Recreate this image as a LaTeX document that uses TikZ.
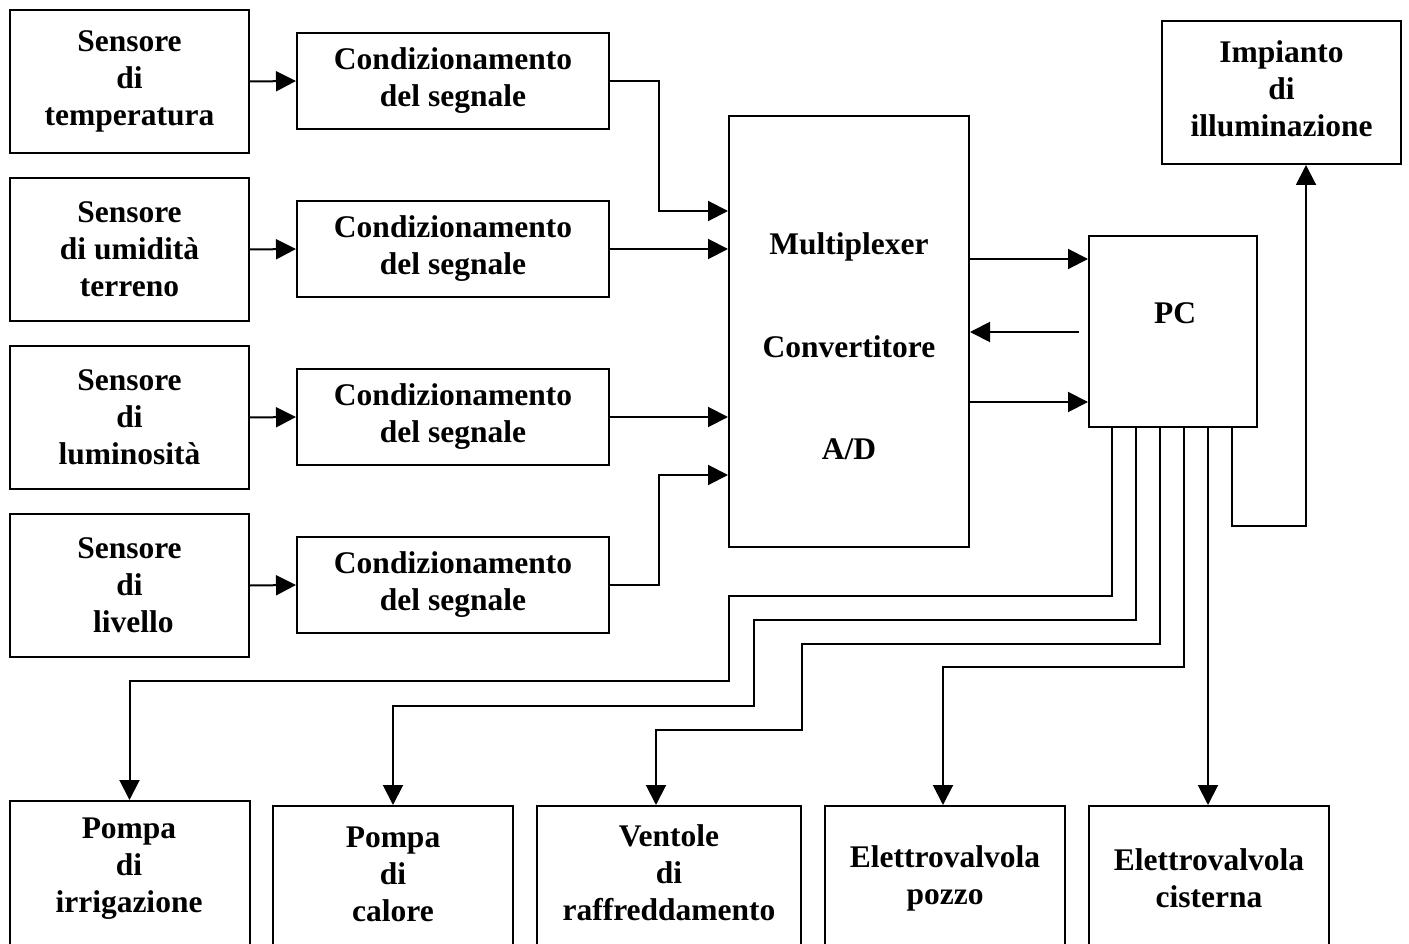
\documentclass[tikz,border=0pt]{standalone}
\usepackage{fontspec}
\setmainfont{Liberation Serif}
\usetikzlibrary{arrows.meta,calc}
\begin{document}
\begin{tikzpicture}[x=1pt,y=-1pt,
  every node/.style={font=\fontsize{31.5}{37}\selectfont\bfseries},
  box/.style={draw,line width=2pt,inner sep=0pt,align=center},
  sens/.style={box,minimum width=239pt,minimum height=143pt},
  cond/.style={box,minimum width=312pt,minimum height=96pt},
  outb/.style={box,minimum width=240pt,minimum height=160pt},
  lbl/.style={align=center,inner sep=0pt},
  wire/.style={line width=2pt},
  arr/.style={wire,-{Triangle[length=20pt,width=20pt]}}]
\useasboundingbox (0,0) rectangle (1409,944);
% sensors
\node[sens] (s1) at (129.5,81.5) {Sensore\\di\\temperatura};
\node[sens] (s2) at (129.5,249.5) {Sensore\\di umidità\\terreno};
\node[sens] (s3) at (129.5,417.5) {Sensore\\di\\luminosità};
\node[sens] (s4) at (129.5,585.5) {Sensore\\di\\\ livello};
% conditioning
\node[cond] (c1) at (453,81) {Condizionamento\\del segnale};
\node[cond] (c2) at (453,249) {Condizionamento\\del segnale};
\node[cond] (c3) at (453,417) {Condizionamento\\del segnale};
\node[cond] (c4) at (453,585) {Condizionamento\\del segnale};
% multiplexer
\node[box,minimum width=240pt,minimum height=431pt] (mux) at (849,331.5) {};
\node[lbl] (m1) at (849,247) {Multiplexer};
\node[lbl] (m2) at (849,347) {Convertitore};
\node[lbl] (m3) at (849,449) {A/D};
% PC
\node[box,minimum width=168pt,minimum height=191pt] (pc) at (1173,331.5) {};
\node[lbl] (pct) at (1175,313) {PC};
% lighting
\node[box,minimum width=239pt,minimum height=143pt] (imp) at (1281.5,92.5) {};
\node[lbl] (impt) at (1281.5,89) {Impianto\\di\\illuminazione};
% outputs
\node[outb] (b1) at (129.5,881) {};
\node[outb] (b2) at (393,886) {};
\node[outb,minimum width=264pt] (b3) at (669,886) {};
\node[outb] (b4) at (945,886) {};
\node[outb] (b5) at (1209,886) {};
\node[lbl] (t1) at (129,869) {Pompa\\di\\irrigazione};
\node[lbl] (t2) at (393,874) {Pompa\\di\\calore};
\node[lbl] (t3) at (669,873) {Ventole\\di\\raffreddamento};
\node[lbl] (t4) at (945,878.5) {Elettrovalvola\\pozzo};
\node[lbl] (t5) at (1209,878.5) {Elettrovalvola\\cisterna};
% sensor -> conditioning
\foreach \i in {1,...,4} \draw[arr] (s\i.east) -- (c\i.west);
% conditioning -> mux
\draw[arr] (c1.east) -- ++(49,0) |- ($(mux.north west)+(0,96)$);
\draw[arr] (c2.east) -- (c2.east -| mux.west);
\draw[arr] (c3.east) -- (c3.east -| mux.west);
\draw[arr] (c4.east) -- ++(49,0) |- ($(mux.north west)+(0,360)$);
% mux <-> pc
\coordinate (p1) at ($(pc.north west)+(0,24)$);
\coordinate (p2) at ($(pc.north west)+(-9,97)$);
\coordinate (p3) at ($(pc.north west)+(0,167)$);
\draw[arr] (mux.east |- p1) -- (p1);
\draw[arr] (p2) -- (mux.east |- p2);
\draw[arr] (mux.east |- p3) -- (p3);
% pc outputs
\coordinate (oa) at ($(pc.south west)+(24,0)$);
\coordinate (ob) at ($(pc.south west)+(48,0)$);
\coordinate (oc) at ($(pc.south west)+(72,0)$);
\coordinate (od) at ($(pc.south west)+(96,0)$);
\coordinate (oe) at ($(pc.south west)+(120,0)$);
\coordinate (of) at ($(pc.south west)+(144,0)$);
\draw[arr] (oa) |- (729,596) |- (500,681) -| (b1.north);
\draw[arr] (ob) |- (753.5,620) |- (600,705.5) -| (b2.north);
\draw[arr] (oc) |- (801.5,644) |- (700,729.5) -| ($(b3.north west)+(120,0)$);
\draw[arr] (od) |- ($(b4.north)+(-2,-138)$) -- ($(b4.north)+(-2,0)$);
\draw[arr] (oe) -- (oe |- b5.north);
\draw[arr] (of) |- ($(imp.south)+(24.5,361)$) -- ($(imp.south)+(24.5,0)$);
\end{tikzpicture}
\end{document}
